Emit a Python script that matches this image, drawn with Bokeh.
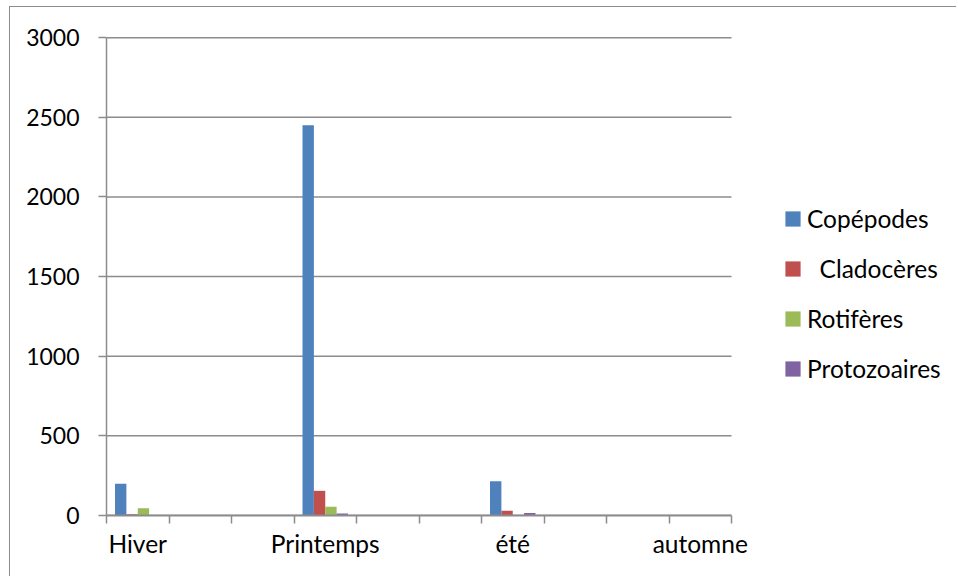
from bokeh.plotting import figure
from bokeh.models import Range1d, FixedTicker, Legend, LegendItem, ColumnDataSource
from bokeh.embed import file_html
from bokeh.resources import INLINE

# ---- data ----
categories = ["Hiver", "", "", "Printemps", "", "", "été", "", "", "automne"]
series_names = ["Copépodes", "\u00a0\u00a0Cladocères", "Rotifères", "Protozoaires"]
copepodes = [200, 0, 0, 2450, 0, 0, 215, 0, 0, 0]
cladoceres = [8, 0, 0, 155, 0, 0, 30, 0, 0, 0]
rotiferes = [45, 0, 0, 55, 0, 0, 3, 0, 0, 0]
protozoaires = [0, 0, 0, 12, 0, 0, 15, 0, 0, 0]
y_ticks = [0, 500, 1000, 1500, 2000, 2500, 3000]

series_values = [copepodes, cladoceres, rotiferes, protozoaires]
colors = ["#4F81BD", "#C0504D", "#9BBB59", "#8064A2"]

FONT = "Lato"
GRAY = "#8C8C8C"

n_cat = len(categories)
n_ser = len(series_values)
gap = 1.5  # Excel gap width 150%
slot = n_ser + gap
bar_w = 1.0 / slot

W, H = 956, 576
FL, FR, FB = 106, 950, 515          # frame left/right/bottom (px)
cat_px = 625.0 / n_cat              # width of one category in px
y_top = 3020                        # small headroom so the top gridline is not clipped
FT = FB - (FB - 37) * y_top / 3000.0

p = figure(width=W, height=H,
           x_range=Range1d(0, (FR - FL) / cat_px), y_range=Range1d(0, y_top),
           output_backend="svg", toolbar_location=None,
           min_border_left=FL, min_border_right=W - FR,
           min_border_top=int(round(FT)), min_border_bottom=H - FB)
p.outline_line_color = None
p.background_fill_color = "white"
p.border_fill_color = None
# outer chart-area frame (left and top edges, as in the reference)
p.styles = {
    "background": ("linear-gradient(#8C8C8C, #8C8C8C) 9px 6px / 1px 100% no-repeat, "
                   "linear-gradient(#8C8C8C, #8C8C8C) 9px 6px / 100% 1px no-repeat, white"),
}

# horizontal gridlines over the category area only
p.ygrid.visible = False
p.xgrid.visible = False
p.segment(x0=[0] * len(y_ticks), x1=[n_cat] * len(y_ticks), y0=y_ticks, y1=y_ticks,
          line_color=GRAY, line_width=1.5)

renderers = []
for j, (vals, col) in enumerate(zip(series_values, colors)):
    xs = [i + (gap / 2 + j + 0.5) / slot for i in range(n_cat)]
    src = ColumnDataSource(dict(x=xs, top=vals))
    r = p.vbar(x="x", top="top", width=bar_w, bottom=0, source=src,
               fill_color=col, line_color=None)
    renderers.append(r)

# x axis: tick marks between categories, labels at category centres
label_pos = [i + 0.5 for i, c in enumerate(categories) if c]
p.xaxis.bounds = (0, n_cat)
p.xaxis.ticker = FixedTicker(ticks=label_pos, minor_ticks=list(range(n_cat + 1)))
p.xaxis.major_label_overrides = {i + 0.5: c for i, c in enumerate(categories) if c}
p.xaxis.major_tick_out = 0
p.xaxis.major_tick_in = 0
p.xaxis.minor_tick_out = 8
p.xaxis.minor_tick_in = 0
p.xaxis.minor_tick_line_color = GRAY
p.xaxis.minor_tick_line_width = 1.5
p.xaxis.axis_line_color = GRAY
p.xaxis.axis_line_width = 2
p.xaxis.major_label_standoff = 5
p.xaxis.major_label_text_font_size = "24.5px"

# y axis
p.yaxis.bounds = (0, 3000)
p.yaxis.ticker = FixedTicker(ticks=y_ticks)
p.yaxis.major_tick_out = 8
p.yaxis.major_tick_in = 0
p.yaxis.minor_tick_line_color = None
p.yaxis.major_tick_line_color = GRAY
p.yaxis.major_tick_line_width = 1.5
p.yaxis.axis_line_color = GRAY
p.yaxis.axis_line_width = 1.5
p.yaxis.major_label_standoff = 19
p.yaxis.major_label_text_font_size = "23px"

for ax in (p.xaxis, p.yaxis):
    ax.major_label_text_font = FONT
    ax.major_label_text_color = "black"

legend = Legend(items=[LegendItem(label=n, renderers=[r]) for n, r in zip(series_names, renderers)],
                location=(783 - FL, 132))
legend.border_line_color = None
legend.background_fill_alpha = 0
legend.padding = 0
legend.margin = 0
legend.glyph_width = 19
legend.glyph_height = 19
legend.label_standoff = 5
legend.spacing = 21
legend.label_text_font = FONT
legend.label_text_font_size = "24.5px"
legend.label_text_color = "black"
p.add_layout(legend)

open("out.html", "w").write(file_html(p, INLINE))
